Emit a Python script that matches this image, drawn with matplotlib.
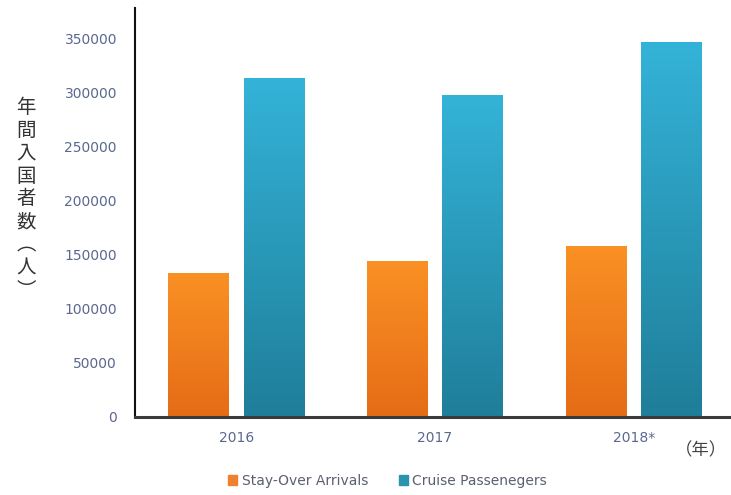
import matplotlib.pyplot as plt
import numpy as np
from matplotlib.colors import LinearSegmentedColormap
from matplotlib.patches import Patch

plt.rcParams['font.family'] = ['DejaVu Sans', 'Noto Sans CJK JP']

years = ['2016', '2017', '2018*']
stay_over = [133500, 144000, 158500]
cruise = [313000, 297500, 347000]

orange_top, orange_bottom = '#FA9124', '#E56C16'
blue_top, blue_bottom = '#34B3D8', '#1F7E99'
tick_color = '#5A6890'

fig = plt.figure(figsize=(7.31, 4.95), dpi=100)
ax = fig.add_axes([0.1847, 0.1576, 0.8153, 0.8262])

x = np.arange(len(years))
width = 0.305
offset = 0.19


def gradient_bars(ax, xs, heights, top, bottom):
    bars = ax.bar(xs, heights, width, color='none', edgecolor='none')
    cmap = LinearSegmentedColormap.from_list('g', [bottom, top])
    grad = np.linspace(0, 1, 256).reshape(-1, 1)
    for bar in bars:
        x0, y0 = bar.get_x(), bar.get_y()
        w, h = bar.get_width(), bar.get_height()
        im = ax.imshow(grad, cmap=cmap, origin='lower', aspect='auto',
                       extent=[x0, x0 + w, y0, y0 + h], zorder=2)
        im.set_clip_path(bar)
    return bars


gradient_bars(ax, x - offset, stay_over, orange_top, orange_bottom)
gradient_bars(ax, x + offset, cruise, blue_top, blue_bottom)

ax.set_xlim(-0.51, 2.49)
ax.set_ylim(0, 378000)
ax.set_yticks(np.arange(0, 350001, 50000))
ax.set_yticklabels([str(v) for v in range(0, 350001, 50000)])
ax.set_xticks(x)
ax.set_xticklabels(years)
ax.tick_params(axis='both', length=0, colors=tick_color, labelsize=10)
ax.tick_params(axis='y', pad=13)
ax.tick_params(axis='x', pad=10)

for side in ['top', 'right']:
    ax.spines[side].set_visible(False)
ax.spines['left'].set_color('#111111')
ax.spines['left'].set_linewidth(1.5)
ax.spines['bottom'].set_color('#3a3a3a')
ax.spines['bottom'].set_linewidth(2.2)

# vertical axis title, one character per line
fig.text(0.036, 0.598, '年\n間\n入\n国\n者\n数\n︵\n人\n︶', fontsize=14,
         ha='center', va='center', color='#333333',
         family=['Noto Sans CJK JP'], linespacing=1.12)
fig.text(0.994, 0.09, '（年）', fontsize=12.5, ha='right', va='center',
         color='#444444', family=['Noto Sans CJK JP'])

handles = [Patch(color='#EE8030', label='Stay-Over Arrivals'),
           Patch(color='#2A93B0', label='Cruise Passenegers')]
leg = fig.legend(handles=handles, loc='center', bbox_to_anchor=(0.53, 0.028),
                 ncol=2, frameon=False, fontsize=10, handlelength=0.7,
                 handleheight=0.7, handletextpad=0.3, columnspacing=2.2)
for t in leg.get_texts():
    t.set_color('#5A6070')

fig.savefig('out.png', dpi=100)
